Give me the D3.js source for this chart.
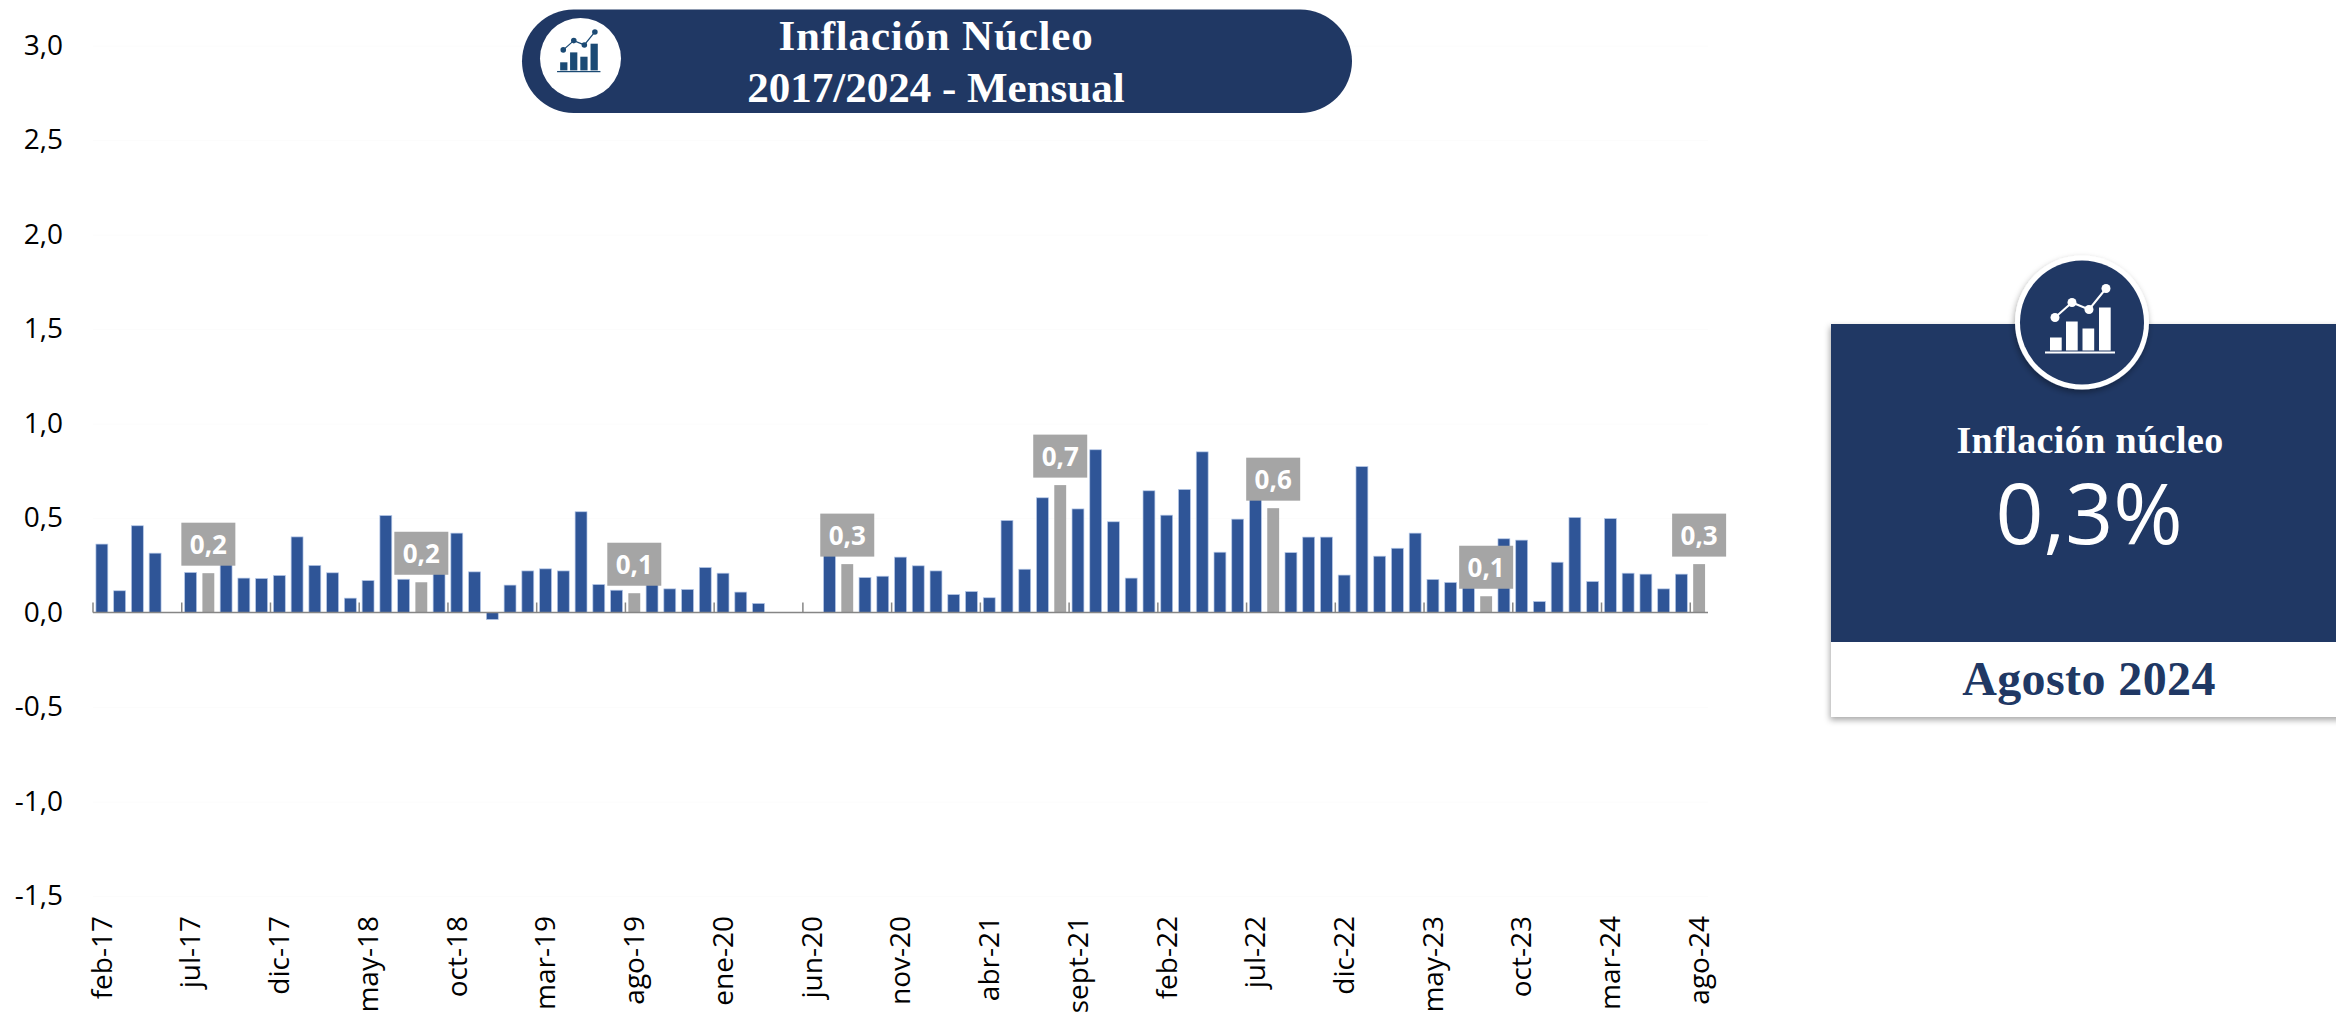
<!DOCTYPE html>
<html>
<head>
<meta charset="utf-8">
<script src="https://cdn.jsdelivr.net/npm/d3@7"></script>
<style>
  html, body { margin: 0; padding: 0; background: #fff; overflow: hidden; }
  svg { display: block; }
</style>
</head>
<body>
<div id="chart"></div>
<script>
var categories = [
  "feb-17","mar-17","abr-17","may-17","jun-17","jul-17","ago-17","sept-17","oct-17","nov-17","dic-17",
  "ene-18","feb-18","mar-18","abr-18","may-18","jun-18","jul-18","ago-18","sept-18","oct-18","nov-18","dic-18",
  "ene-19","feb-19","mar-19","abr-19","may-19","jun-19","jul-19","ago-19","sept-19","oct-19","nov-19","dic-19",
  "ene-20","feb-20","mar-20","abr-20","may-20","jun-20","jul-20","ago-20","sept-20","oct-20","nov-20","dic-20",
  "ene-21","feb-21","mar-21","abr-21","may-21","jun-21","jul-21","ago-21","sept-21","oct-21","nov-21","dic-21",
  "ene-22","feb-22","mar-22","abr-22","may-22","jun-22","jul-22","ago-22","sept-22","oct-22","nov-22","dic-22",
  "ene-23","feb-23","mar-23","abr-23","may-23","jun-23","jul-23","ago-23","sept-23","oct-23","nov-23","dic-23",
  "ene-24","feb-24","mar-24","abr-24","may-24","jun-24","jul-24","ago-24"
];
var values = [
  .362,.115,.459,.314,null,.212,.208,.27,.182,.18,.196,
  .40,.249,.21,.076,.169,.513,.176,.16,.22,.42,.215,-.037,
  .145,.22,.231,.22,.533,.148,.118,.102,.155,.125,.122,.238,
  .208,.108,.048,null,null,null,.31,.256,.185,.192,.293,.247,
  .22,.095,.111,.078,.487,.229,.607,.674,.548,.861,.48,.182,
  .644,.515,.651,.85,.319,.494,.6,.552,.317,.399,.399,.198,
  .772,.298,.34,.42,.175,.159,.15,.086,.39,.383,.058,.266,
  .503,.164,.497,.208,.203,.125,.203,.256
];
var yTicks = [-1.5, -1, -.5, 0, .5, 1, 1.5, 2, 2.5, 3];
var titleLines = ["Inflación Núcleo", "2017/2024 - Mensual"];
var panelTitle = "Inflación núcleo", panelValue = "0,3%", panelDate = "Agosto 2024";

var navy = "#203864", barBlue = "#2f5597", barGray = "#a5a5a5";
var sans = "'Open Sans', sans-serif", serif = "'Liberation Serif', serif";

function comma(v, digits){ return v.toFixed(digits).replace(".", ","); }

var svg = d3.select("#chart").append("svg")
  .attr("width", 2336)
  .attr("height", 1015);

var defs = svg.append("defs");
defs.append("filter").attr("id", "shadow")
  .attr("x", "-10%").attr("y", "-10%").attr("width", "120%").attr("height", "120%")
  .append("feDropShadow")
  .attr("dx", -1).attr("dy", 3).attr("stdDeviation", 3)
  .attr("flood-color", "#000").attr("flood-opacity", .35);

var data = categories.map(function(c, i){ return {cat: c, val: values[i], i: i}; });

var x = d3.scaleBand().domain(categories).range([93, 1708]).paddingInner(.33).paddingOuter(.165);
var y = d3.scaleLinear().domain([-1.5, 3]).range([896, 45.5]);
var tickCats = categories.filter(function(c, i){ return i % 5 == 0; });
var bandLeft = function(c){ return x(c) - x.step() * .165; };

//Y axis, with its very faint grid
var yAxis = svg.append("g")
  .attr("transform", "translate(93,0)")
  .call(d3.axisLeft(y).tickValues(yTicks).tickSize(0).tickPadding(30)
    .tickFormat(function(d){ return comma(d, 1); }));
yAxis.select(".domain").remove();
yAxis.selectAll("text")
  .style("font-family", sans)
  .style("font-size", "28px")
  .attr("fill", "#000");
yAxis.selectAll(".tick").append("line")
  .attr("x2", 1615)
  .attr("stroke", "#fcfcfc");

//Bars
svg.append("g").selectAll("rect")
  .data(data.filter(function(d){ return d.val !== null; }))
  .enter().append("rect")
    .attr("x", function(d){ return x(d.cat); })
    .attr("width", x.bandwidth())
    .attr("y", function(d){ return y(Math.max(d.val, 0)); })
    .attr("height", function(d){ return Math.abs(y(d.val) - y(0)); })
    .attr("fill", function(d){ return d.cat.indexOf("ago") == 0 ? barGray : barBlue; })
    .attr("stroke", function(d){ return d.cat.indexOf("ago") == 0 ? "none" : "#b4c7e7"; })
    .attr("stroke-width", .7);

//Baseline and inner ticks
svg.append("line")
  .attr("x1", 93).attr("x2", 1708)
  .attr("y1", y(0)).attr("y2", y(0))
  .attr("stroke", "#868686").attr("stroke-width", 1.5);
svg.append("g").selectAll("line")
  .data(tickCats)
  .enter().append("line")
    .attr("x1", bandLeft).attr("x2", bandLeft)
    .attr("y1", y(0)).attr("y2", y(0) - 10)
    .attr("stroke", "#868686").attr("stroke-width", 1.5);

//X labels
var xAxis = svg.append("g")
  .attr("transform", "translate(0,916)")
  .call(d3.axisBottom(x).tickValues(tickCats).tickSize(0));
xAxis.select(".domain").remove();
xAxis.selectAll("text")
  .style("font-family", sans)
  .style("font-size", "28px")
  .style("text-anchor", "end")
  .attr("fill", "#000")
  .attr("x", 0).attr("y", 0).attr("dy", ".35em")
  .attr("transform", "rotate(-90)");

//August labels
var boxes = svg.append("g").selectAll("g")
  .data(data.filter(function(d){ return d.cat.indexOf("ago") == 0; }))
  .enter().append("g")
    .attr("transform", function(d){
      return "translate(" + (x(d.cat) + x.bandwidth() / 2) + "," + (y(d.val) - 7.5) + ")";
    });
boxes.append("rect")
  .attr("x", -27).attr("y", -43)
  .attr("width", 54).attr("height", 43)
  .attr("fill", barGray);
boxes.append("text")
  .attr("y", -12)
  .attr("text-anchor", "middle")
  .attr("fill", "#fff")
  .style("font-family", sans)
  .style("font-size", "26px")
  .style("font-weight", "700")
  .text(function(d){ return comma(d.val, 1); });

//Bars and line icon, drawn around 0,0
function drawIcon(g, color){
  var bars = [[-32, 15], [-16, -1], [.5, 6], [17, -15]];
  var pts = [[-27, -5], [-10, -20], [7, -13], [24, -34]];
  g.selectAll("rect.b").data(bars).enter().append("rect")
    .attr("class", "b")
    .attr("x", function(d){ return d[0]; })
    .attr("y", function(d){ return d[1]; })
    .attr("width", 11.7)
    .attr("height", function(d){ return 28 - d[1]; })
    .attr("fill", color);
  g.append("rect").attr("x", -37).attr("y", 29).attr("width", 70).attr("height", 2).attr("fill", color);
  g.append("path")
    .attr("d", d3.line()(pts))
    .attr("fill", "none").attr("stroke", color).attr("stroke-width", 2);
  g.selectAll("circle").data(pts).enter().append("circle")
    .attr("cx", function(d){ return d[0]; })
    .attr("cy", function(d){ return d[1]; })
    .attr("r", 4.5)
    .attr("fill", color);
}

//Title pill
svg.append("rect")
  .attr("x", 522).attr("y", 9.5)
  .attr("width", 830).attr("height", 103.5)
  .attr("rx", 51.7)
  .attr("fill", navy);
svg.append("circle").attr("cx", 580.5).attr("cy", 58.5).attr("r", 40.5).attr("fill", "#fff");
drawIcon(svg.append("g").attr("transform", "translate(580,53) scale(.62)"), "#1b4a74");
svg.append("g").selectAll("text")
  .data(titleLines)
  .enter().append("text")
    .attr("x", 936)
    .attr("y", function(d, i){ return i == 0 ? 50 : 102; })
    .attr("text-anchor", "middle")
    .attr("fill", "#fff")
    .style("font-family", serif)
    .style("font-size", "43px")
    .style("font-weight", "700")
    .style("letter-spacing", function(d, i){ return i == 0 ? ".8px" : "0"; })
    .text(function(d){ return d; });

//Right panel
svg.append("rect")
  .attr("x", 1831).attr("y", 324)
  .attr("width", 520).attr("height", 393)
  .attr("fill", "#fff")
  .attr("filter", "url(#shadow)");
svg.append("rect")
  .attr("x", 1831).attr("y", 324)
  .attr("width", 505).attr("height", 318)
  .attr("fill", navy);
svg.append("circle")
  .attr("cx", 2082).attr("cy", 322.5).attr("r", 67)
  .attr("fill", "#fff")
  .attr("filter", "url(#shadow)");
svg.append("circle").attr("cx", 2082).attr("cy", 322.5).attr("r", 62).attr("fill", navy);
drawIcon(svg.append("g").attr("transform", "translate(2082,322.5)"), "#fff");

svg.append("text")
  .attr("x", 2090).attr("y", 453)
  .attr("text-anchor", "middle")
  .attr("fill", "#fff")
  .style("font-family", serif)
  .style("font-size", "38px")
  .style("font-weight", "700")
  .style("letter-spacing", ".4px")
  .text(panelTitle);
svg.append("text")
  .attr("x", 2089).attr("y", 544)
  .attr("text-anchor", "middle")
  .attr("fill", "#fff")
  .style("font-family", sans)
  .style("font-size", "84px")
  .text(panelValue);
svg.append("text")
  .attr("x", 2089).attr("y", 695)
  .attr("text-anchor", "middle")
  .attr("fill", navy)
  .style("font-family", serif)
  .style("font-size", "48px")
  .style("font-weight", "700")
  .style("letter-spacing", ".4px")
  .text(panelDate);
</script>
</body>
</html>
